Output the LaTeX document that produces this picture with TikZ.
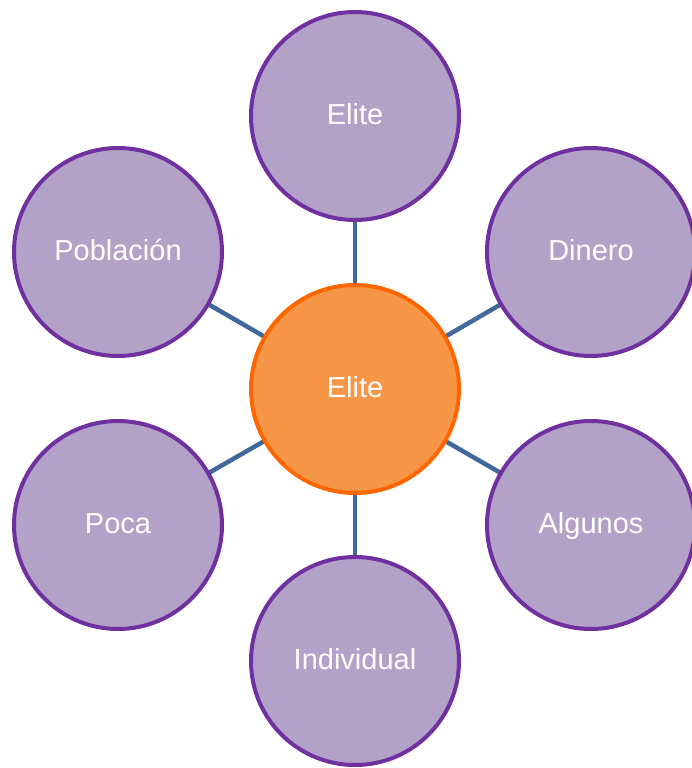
\documentclass[tikz,border=0pt]{standalone}
\usepackage{fontspec}
\setmainfont{Liberation Sans}
\definecolor{pfill}{HTML}{B3A2C7}
\definecolor{pline}{HTML}{7030A0}
\definecolor{ofill}{HTML}{F79646}
\definecolor{oline}{HTML}{FF6600}
\definecolor{conn}{HTML}{41689A}
\begin{document}
\begin{tikzpicture}[x=1pt,y=-1pt,
  bubble/.style={circle,line width=4pt,minimum size=208pt,inner sep=0pt,text=white,
    font=\fontsize{29}{34}\selectfont,text height=17pt,text depth=0pt},
  outer/.style={bubble,draw=pline,fill=pfill},
  hub/.style={bubble,draw=oline,fill=ofill},
  link/.style={draw=conn,line width=4.5pt}]
\useasboundingbox (0,0) rectangle (691,768);
\coordinate (pc) at (355,389);
\coordinate (p1) at (355,116);
\coordinate (p2) at (591,252);
\coordinate (p3) at (591,525);
\coordinate (p4) at (355,661);
\coordinate (p5) at (118,525);
\coordinate (p6) at (118,252);
\foreach \i in {1,...,6} {\draw[link] (pc) -- (p\i);}
\node[hub] (c) at (pc) {Elite};
\node[outer] (n1) at (p1) {Elite};
\node[outer] (n2) at (p2) {Dinero};
\node[outer] (n3) at (p3) {Algunos};
\node[outer] (n4) at (p4) {Individual};
\node[outer] (n5) at (p5) {Poca};
\node[outer] (n6) at (p6) {Población};
\end{tikzpicture}
\end{document}
